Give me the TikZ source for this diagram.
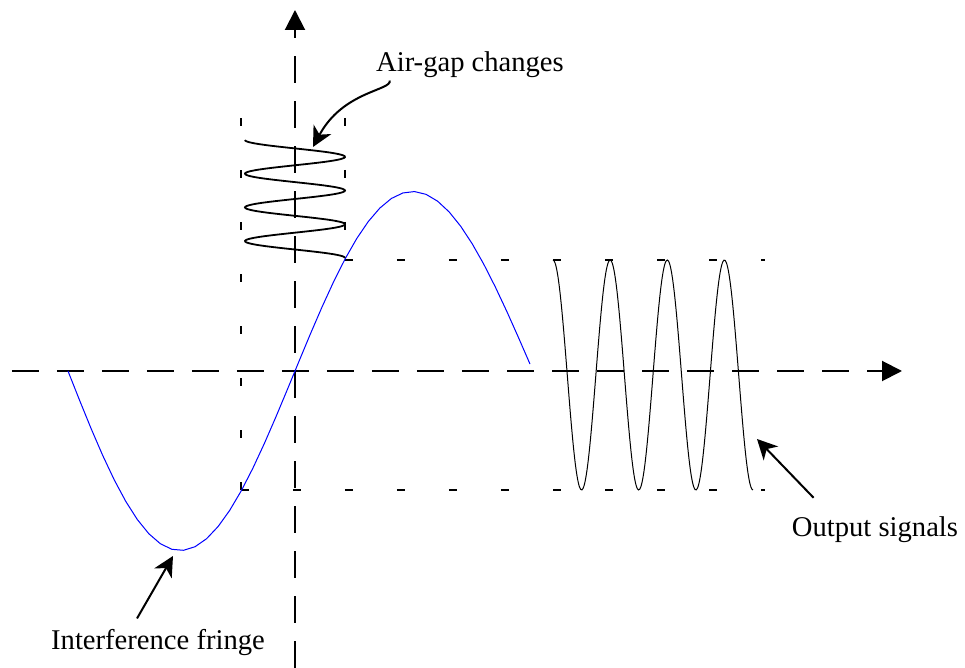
\documentclass[tikz,border=0pt]{standalone}
\usepackage{fontspec}
\setmainfont{Liberation Serif}
\usetikzlibrary{arrows.meta}
\definecolor{FringeBlue}{HTML}{0000FF}

\begin{document}
\begin{tikzpicture}[x=0.5pt,y=0.5pt,
  axisline/.style={line width=1pt,dash pattern=on 13.5pt off 9pt,-{Triangle[length=10pt,width=10pt]}},
  guideline/.style={line width=0.7pt,dash pattern=on 4pt off 22pt},
  pointer/.style={line width=1pt,-{Stealth[length=10pt,width=10pt,inset=3pt]}},
  note/.style={font=\fontsize{14.3}{17}\selectfont,inner sep=0pt,anchor=base}]
  \useasboundingbox (-295,-297) rectangle (670,371);
  % axes
  \draw[axisline] (-283,0) -- (607,0);
  \draw[axisline] (0,-297) -- (0,361);
  % guide lines
  \draw[guideline] (-54,-119) -- (-54,253);
  \draw[guideline] (-54,-119) -- (470,-119);
  \draw[guideline] (50,253) -- (50,111);
  \draw[guideline] (50,111) -- (470,111);
  % curves
  \draw[FringeBlue,line width=0.5pt] plot[domain=-227:235,samples=41] (\x,{179.5*sin(0.775*\x-0.788*(\x/100)^2)});
  \draw[line width=0.9pt] plot[domain=0:3.5,samples=160,smooth] ({-50*cos(360*\x)},{231-33.7*\x});
  \draw[line width=0.5pt] plot[domain=0:3.5,samples=160,smooth] ({258+57.14*\x},{-4+115*cos(360*\x)});
  % labels
  \node[note] (gaplabel) at (175,299) {Air-gap changes};
  \node[note] (outlabel) at (580,-166) {Output signals};
  \node[note] (fringelabel) at (-137,-279) {Interference fringe};
  \coordinate (gaptip) at (18,224);
  \coordinate (outtip) at (462,-68);
  \coordinate (fringetip) at (-122,-185);
  \draw[pointer] ([shift={(14,-2)}]gaplabel.south west) .. controls +(2,-10) and +(30,56) .. (gaptip);
  \draw[pointer] ([shift={(22,19)}]outlabel.north west) -- (outtip);
  \draw[pointer] ([shift={(-21,11)}]fringelabel.north) -- (fringetip);
\end{tikzpicture}
\end{document}
